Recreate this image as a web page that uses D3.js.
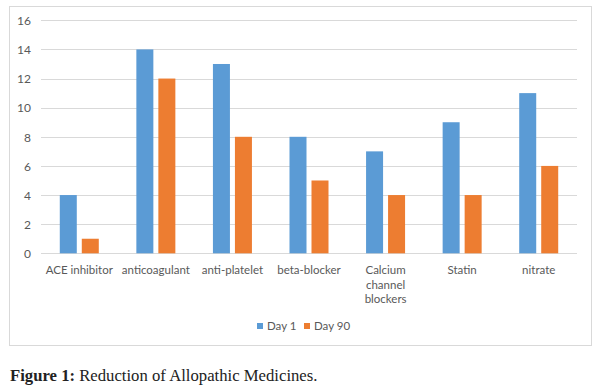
<!DOCTYPE html>
<html><head><meta charset="utf-8">
<script src="https://cdn.jsdelivr.net/npm/d3@7/dist/d3.min.js"></script>
<style>body{margin:0;background:#fff}svg{display:block}</style>
</head><body><svg id="c" width="600" height="388"></svg>
<script>
const categories = ["ACE inhibitor","anticoagulant","anti-platelet","beta-blocker","Calcium channel blockers","Statin","nitrate"];
const seriesNames = ["Day 1","Day 90"];
const day1 = [4,14,13,8,7,9,11];
const day90 = [1,12,8,5,4,4,6];
const yTicks = [0,2,4,6,8,10,12,14,16];
const colors = ["#5B9BD5","#ED7D31"];

const svg = d3.select("#c");
const font = "Lato, 'Open Sans', sans-serif";
svg.append("rect").attr("x",9.5).attr("y",6.5).attr("width",582).attr("height",339)
  .attr("fill","#fff").attr("stroke","#D9D9D9").attr("stroke-width",1);

const L=41, R=577, T=20.3, B=253.3;
const x = d3.scaleBand().domain(categories).range([L,R]).paddingInner(0).paddingOuter(0);
const y = d3.scaleLinear().domain([0,16]).range([B,T]);

const g = svg.append("g");
g.selectAll("line.grid").data(yTicks).join("line")
  .attr("x1",L).attr("x2",R).attr("y1",d=>Math.round(y(d))+0.5).attr("y2",d=>Math.round(y(d))+0.5)
  .attr("stroke","#D9D9D9").attr("stroke-width",1);

const yAxis = d3.axisLeft(y).tickValues(yTicks).tickSize(0).tickPadding(0);
const ya = svg.append("g").attr("transform",`translate(31,0)`).call(yAxis);
ya.select(".domain").remove();
ya.selectAll("text").attr("font-family",font).attr("font-size",12).attr("fill","#595959").attr("dy","0.35em");

const bw = 17, gap = 5;
const data = [day1, day90];
data.forEach((vals,si)=>{
  g.selectAll("rect.s"+si).data(vals).join("rect")
    .attr("x",(d,i)=>x(categories[i])+x.bandwidth()/2 - (bw+gap/2) + si*(bw+gap))
    .attr("width",bw)
    .attr("y",d=>y(d)).attr("height",d=>B-y(d))
    .attr("fill",colors[si]);
});

const xl = svg.append("g");
categories.forEach(c=>{
  const lines = c==="Calcium channel blockers" ? ["Calcium","channel","blockers"] : [c];
  const t = xl.append("text").attr("x",x(c)+x.bandwidth()/2).attr("y",274)
    .attr("text-anchor","middle").attr("font-family",font).attr("font-size",11.5).attr("fill","#595959");
  lines.forEach((ln,k)=>t.append("tspan").attr("x",x(c)+x.bandwidth()/2).attr("dy",k?14.5:0).text(ln));
});

const legX = [257,304];
seriesNames.forEach((s,i)=>{
  svg.append("rect").attr("x",legX[i]).attr("y",323).attr("width",6).attr("height",6).attr("fill",colors[i]);
  svg.append("text").attr("x",legX[i]+10).attr("y",330).attr("font-family",font).attr("font-size",11.5)
    .attr("fill","#595959").text(s);
});

const cap = svg.append("text").attr("x",10).attr("y",381).attr("font-family","'Liberation Serif', 'DejaVu Serif', serif").attr("font-size",16.7).attr("fill","#222");
cap.append("tspan").attr("font-weight","bold").text("Figure 1:");
cap.append("tspan").text(" Reduction of Allopathic Medicines.");
</script></body></html>
